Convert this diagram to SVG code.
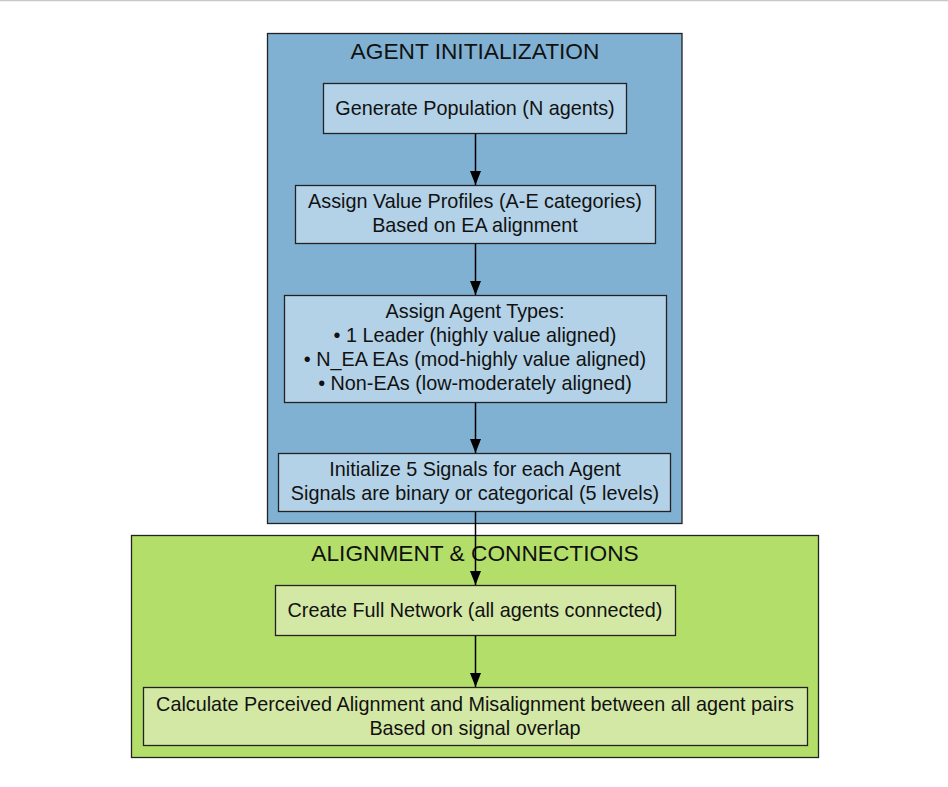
<svg xmlns="http://www.w3.org/2000/svg" width="948" height="787" viewBox="0 0 948 787">
<defs>
<style>
.cl1{fill:#80b1d3;stroke:#222;stroke-width:1.3}
.cl2{fill:#b3de69;stroke:#222;stroke-width:1.3}
.nb{fill:#b3d1e7;stroke:#222;stroke-width:1.3}
.ng{fill:#d4e8a5;stroke:#222;stroke-width:1.3}
text{font-family:"Liberation Sans",Arial,sans-serif;fill:#111;text-anchor:middle}
.t{font-size:19.8px}
.h{font-size:22.7px}
.e{stroke:#000;stroke-width:1.5;fill:none}
</style>
<marker id="ah" viewBox="0 0 14 12" refX="14" refY="6" markerWidth="14" markerHeight="12" markerUnits="userSpaceOnUse" orient="auto">
<path d="M0,0.5 L14,6 L0,11.5 z" fill="#000"/>
</marker>
</defs>
<rect x="0" y="0" width="948" height="787" fill="#fff"/>
<line x1="0" y1="0.5" x2="948" y2="0.5" stroke="#c8c8c8" stroke-width="1.5"/>
<g id="cluster_init">
<rect class="cl1" x="267.5" y="33.5" width="414.5" height="490"/>
<text class="h" x="475" y="59">AGENT INITIALIZATION</text>
</g>
<g id="cluster_align">
<rect class="cl2" x="131.5" y="535.5" width="687" height="222"/>
<text class="h" x="475" y="561">ALIGNMENT &amp; CONNECTIONS</text>
</g>
<g id="n1">
<rect class="nb" x="323.5" y="83.5" width="303" height="50"/>
<text class="t" x="475" y="115">Generate Population (N agents)</text>
</g>
<g id="n2">
<rect class="nb" x="295.5" y="185.5" width="360" height="58"/>
<text class="t" x="475" y="208">Assign Value Profiles (A-E categories)</text>
<text class="t" x="475" y="232">Based on EA alignment</text>
</g>
<g id="n3">
<rect class="nb" x="284.5" y="295.5" width="382" height="107"/>
<text class="t" x="475" y="318">Assign Agent Types:</text>
<text class="t" x="475" y="342">• 1 Leader (highly value aligned)</text>
<text class="t" x="475" y="366">• N_EA EAs (mod-highly value aligned)</text>
<text class="t" x="475" y="390">• Non-EAs (low-moderately aligned)</text>
</g>
<g id="n4">
<rect class="nb" x="278.5" y="453.5" width="392" height="58"/>
<text class="t" x="475" y="476">Initialize 5 Signals for each Agent</text>
<text class="t" x="475" y="500">Signals are binary or categorical (5 levels)</text>
</g>
<g id="n5">
<rect class="ng" x="275.5" y="585.5" width="400" height="50"/>
<text class="t" x="475" y="617">Create Full Network (all agents connected)</text>
</g>
<g id="n6">
<rect class="ng" x="143.5" y="687.5" width="664" height="58"/>
<text class="t" x="475" y="711">Calculate Perceived Alignment and Misalignment between all agent pairs</text>
<text class="t" x="475" y="735">Based on signal overlap</text>
</g>
<g id="edges">
<line class="e" x1="475.5" y1="134" x2="475.5" y2="185" marker-end="url(#ah)"/>
<line class="e" x1="475.5" y1="244" x2="475.5" y2="295" marker-end="url(#ah)"/>
<line class="e" x1="475.5" y1="403" x2="475.5" y2="453" marker-end="url(#ah)"/>
<line class="e" x1="475.5" y1="512" x2="475.5" y2="585" marker-end="url(#ah)"/>
<line class="e" x1="475.5" y1="636" x2="475.5" y2="687" marker-end="url(#ah)"/>
</g>
</svg>
